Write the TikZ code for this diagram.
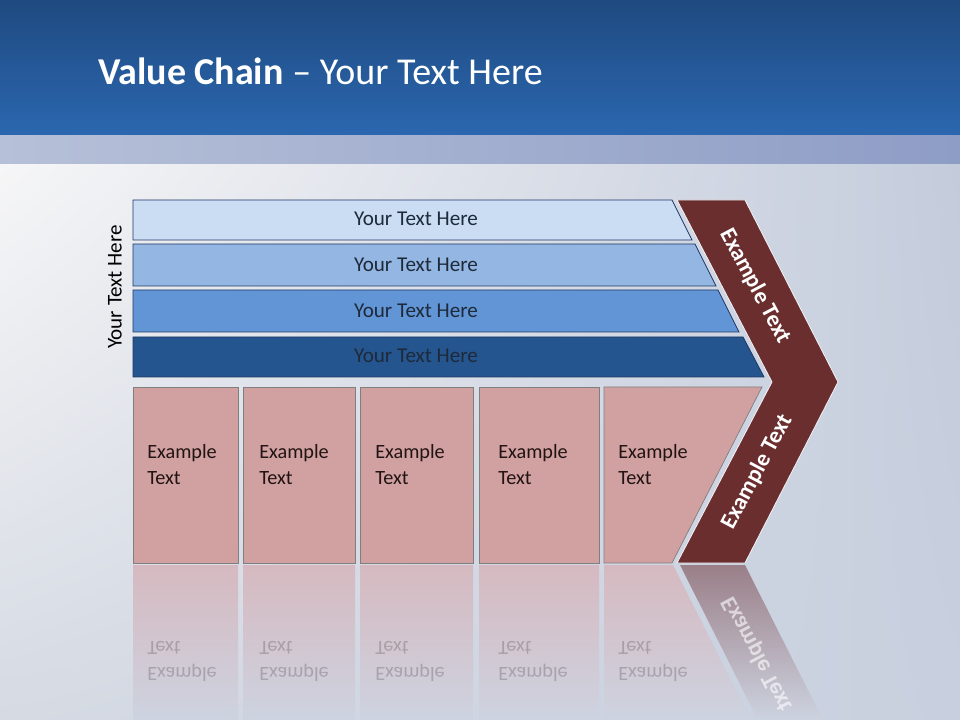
\documentclass[tikz,border=0pt]{standalone}
\usepackage{fontspec}
\setmainfont{Carlito}
\usetikzlibrary{positioning, shadings}
\definecolor{cheadtop}{HTML}{1F4A80}
\definecolor{cheadbot}{HTML}{2B67B0}
\definecolor{cbandl}{HTML}{B6C0D8}
\definecolor{cbandr}{HTML}{8E9DC6}
\definecolor{cbgul}{HTML}{F6F6F7}
\definecolor{cbgur}{HTML}{C4CCDC}
\definecolor{cbgll}{HTML}{D5DAE3}
\definecolor{cbglr}{HTML}{C8D0DF}
\definecolor{cbgbot}{HTML}{CDD3E0}
\definecolor{cnavy}{HTML}{1F3864}
\definecolor{cbarA}{HTML}{CADDF3}
\definecolor{cbarB}{HTML}{94B6E2}
\definecolor{cbarC}{HTML}{6195D6}
\definecolor{cbarD}{HTML}{24558F}
\definecolor{cbartext}{HTML}{1E2A3A}
\definecolor{cpink}{HTML}{D1A0A0}
\definecolor{cpinkrefl}{HTML}{D6B9C0}
\definecolor{cgreyline}{HTML}{7F7F7F}
\definecolor{cmaroon}{HTML}{6A2E2F}
\definecolor{cmaroonrefl}{HTML}{9A7F88}
\definecolor{ccelltext}{HTML}{221414}
\tikzset{
  every picture/.style={x=0.025cm, y=-0.025cm},
  bar/.style={draw=cnavy, line width=0.6pt, fill=#1},
  cell/.style={draw=cgreyline, line width=0.5pt, fill=cpink},
  chevron/.style={draw=white!75!cbgur, line width=0.6pt, fill=cmaroon},
  refl/.style={top color=#1, bottom color=cbgbot, draw=none},
  bartext/.style={font=\fontsize{15}{18}\selectfont, text=cbartext},
  celltext/.style={font=\fontsize{14.4}{18.5}\selectfont, text=ccelltext, align=left, anchor=west, inner sep=0pt},
  chevtext/.style={font=\fontsize{16.5}{19}\selectfont\bfseries, text=white},
  refltext/.style={celltext, text=ccelltext, opacity=0.22, yscale=-1},
  title/.style={font=\fontsize{27}{32}\selectfont, text=white, anchor=base west, inner sep=0pt},
}

\begin{document}
\begin{tikzpicture}
  \useasboundingbox (0,0) rectangle (960,720);
  \shade[top color=cheadtop, bottom color=cheadbot] (0,0) rectangle (960,136);
  \shade[left color=cbandl, right color=cbandr] (0,136) rectangle (960,165);
  \shade[upper left=cbgul, upper right=cbgur, lower left=cbgll, lower right=cbglr] (0,165) rectangle (960,720);
  \node[title] (title) at (98,85) {\textbf{Value Chain} – Your Text Here};

  \draw[bar=cbarA] (133,200) -- (672,200) -- (692,240) -- (133,240) -- cycle;
  \draw[bar=cbarB] (133,244) -- (695,244) -- (716,286) -- (133,286) -- cycle;
  \draw[bar=cbarC] (133,290) -- (718,290) -- (739,332) -- (133,332) -- cycle;
  \draw[bar=cbarD] (133,337) -- (743,337) -- (764,377) -- (133,377) -- cycle;
  \node[bartext] (bar1) at (416,219) {Your Text Here};
  \node[bartext] (bar2) at (416,265) {Your Text Here};
  \node[bartext] (bar3) at (416,311) {Your Text Here};
  \node[bartext] (bar4) at (416,356) {Your Text Here};
  \node[bartext, text=black, rotate=90] (side) at (115,287) {Your Text Here};

  \draw[cell] (133,387) rectangle (238,563);
  \draw[cell] (243,387) rectangle (355,563);
  \draw[cell] (360,387) rectangle (473,563);
  \draw[cell] (479,387) rectangle (599,563);
  \draw[cell] (604,387) -- (762,387) -- (672,563) -- (604,563) -- cycle;
  \node[celltext] (cell1) at (147,465) {Example\\Text};
  \node[celltext] (cell2) at (259,465) {Example\\Text};
  \node[celltext] (cell3) at (375,465) {Example\\Text};
  \node[celltext] (cell4) at (498,465) {Example\\Text};
  \node[celltext] (cell5) at (618,465) {Example\\Text};

  \draw[chevron] (677,200) -- (745,200) -- (838,382) -- (745,563) -- (677,563) -- (772,382) -- cycle;
  \node[chevtext, rotate=-62] (chevup) at (755,286) {Example Text};
  \node[chevtext, rotate=62] (chevdown) at (757,472) {Example Text};

  \shade[refl=cpinkrefl] (133,565) rectangle (238,720);
  \shade[refl=cpinkrefl] (243,565) rectangle (355,720);
  \shade[refl=cpinkrefl] (360,565) rectangle (473,720);
  \shade[refl=cpinkrefl] (479,565) rectangle (599,720);
  \shade[refl=cpinkrefl] (604,565) -- (673,565) -- (751,720) -- (604,720) -- cycle;
  \shade[refl=cmaroonrefl] (680,565) -- (745,565) -- (823,720) -- (758,720) -- cycle;
  \node[refltext] (refl1) at (147,661) {Example\\Text};
  \node[refltext] (refl2) at (259,661) {Example\\Text};
  \node[refltext] (refl3) at (375,661) {Example\\Text};
  \node[refltext] (refl4) at (498,661) {Example\\Text};
  \node[refltext] (refl5) at (618,661) {Example\\Text};
  \node[chevtext, opacity=0.6, rotate=-62, yscale=-1] (reflchev) at (757,654) {Example Text};
\end{tikzpicture}
\end{document}
